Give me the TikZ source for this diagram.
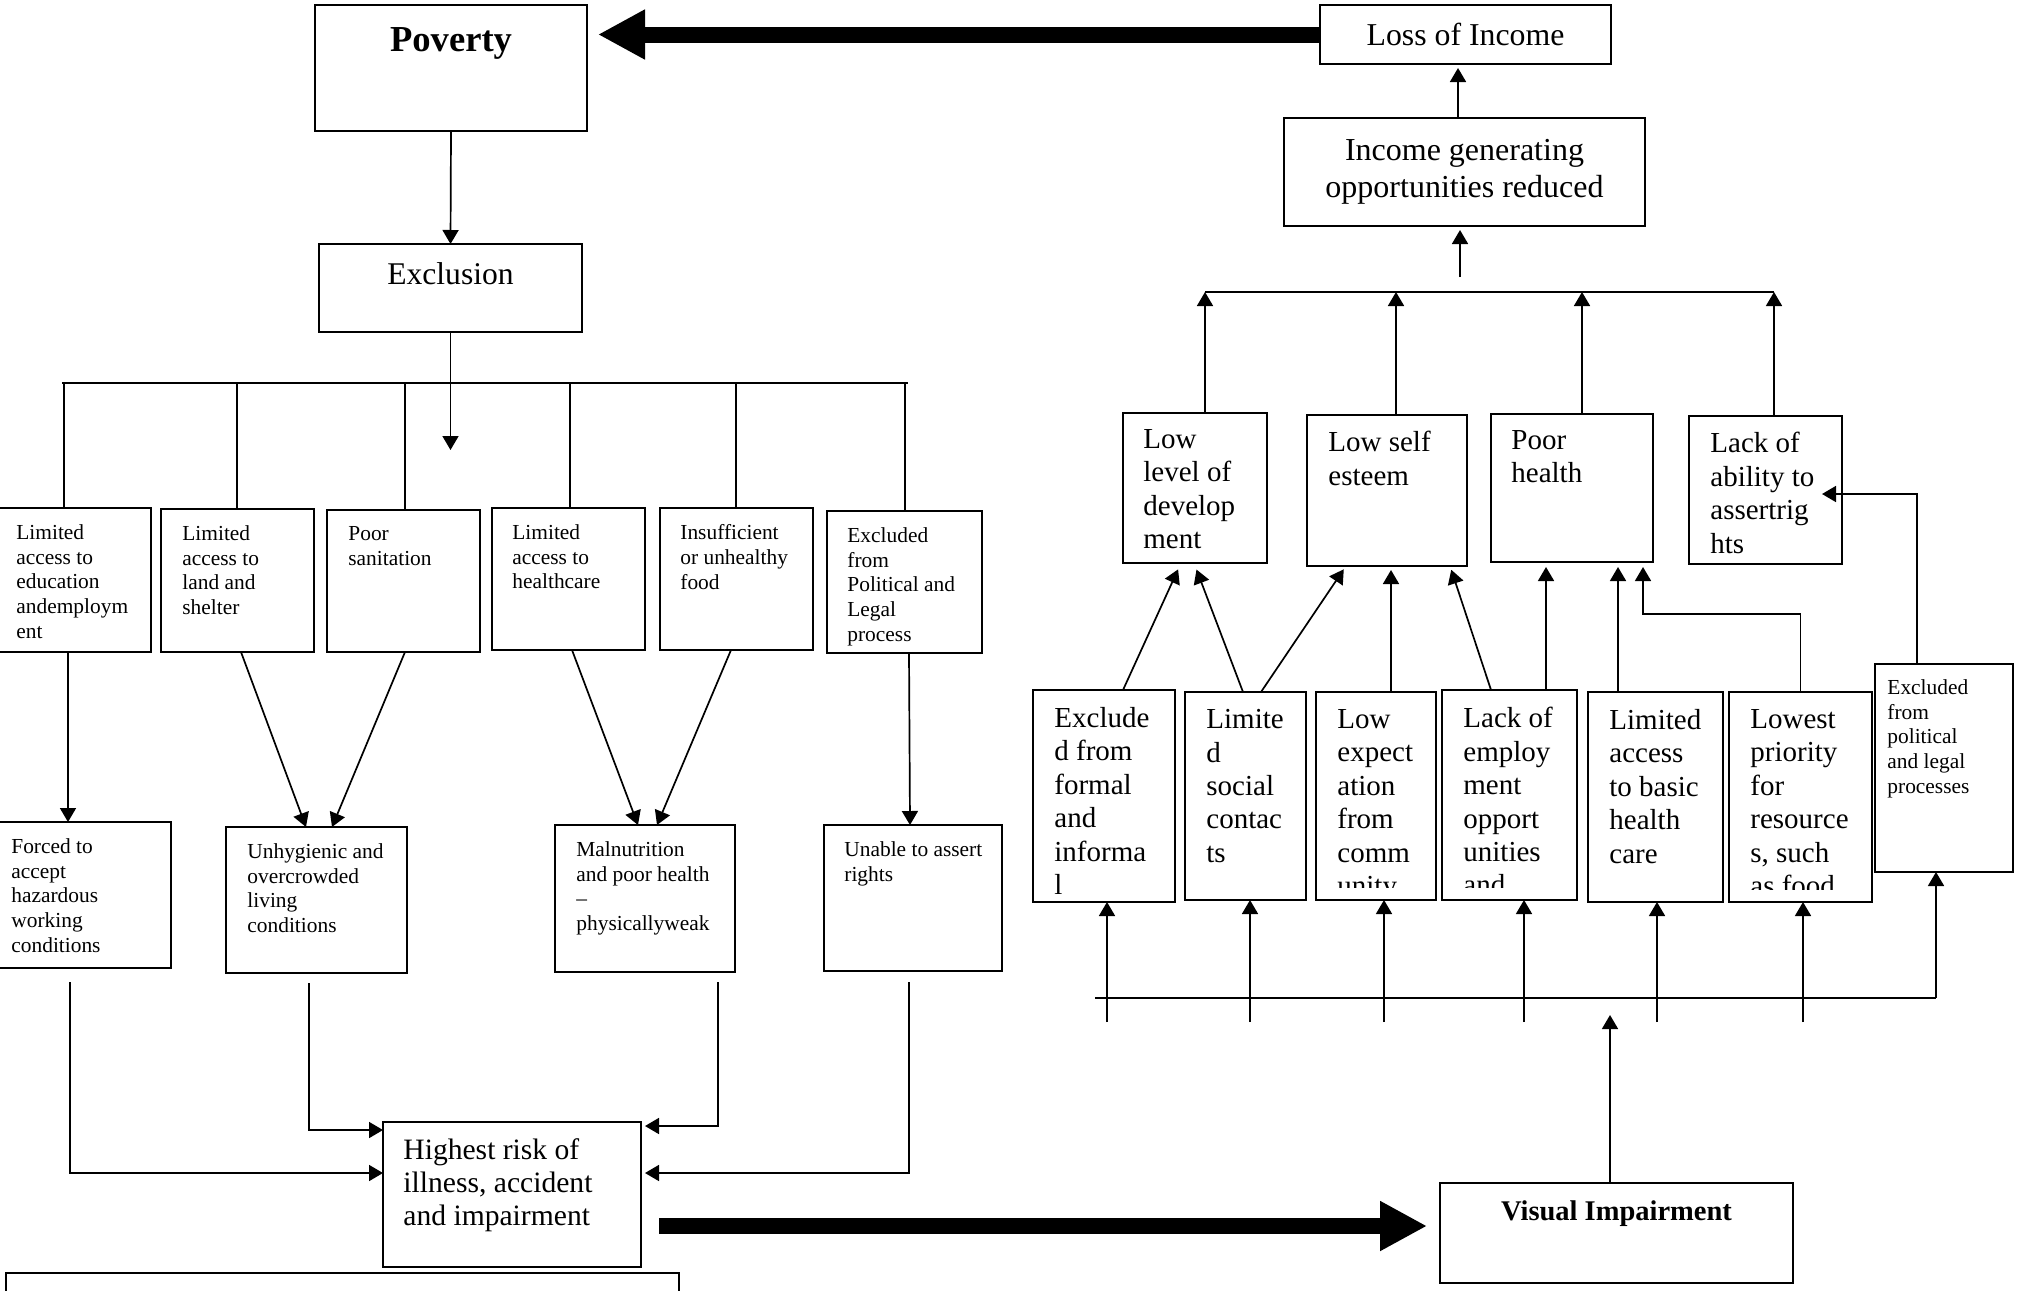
\documentclass[tikz,border=0pt]{standalone}
\usepackage{fontspec}
\setmainfont{Liberation Serif}
\usetikzlibrary{arrows.meta,calc}

\newcommand\mkbox[5]{\node[boxst, minimum width={(#4-#2)*0.5pt}, minimum height={(#5-#3)*0.5pt}] (#1) at (#2,#3) {};}
\newcommand\btxt[5]{\node[txt,#4] at ([shift={(#2,#3)}]#1.north west) {#5};}
\newcommand\cliptxt[6]{%
  \begin{scope}
    \clip (#1.north west) rectangle ([shift={(0,-#6)}]#1.south east);
    \node[txt,#4] at ([shift={(#2,#3)}]#1.north west) {#5};
  \end{scope}}

\begin{document}
\begin{tikzpicture}[x=0.5pt,y=-0.5pt,
  boxst/.style={draw, line width=1.1pt, inner sep=0pt, outer sep=0pt, anchor=north west},
  txt/.style={inner sep=0pt, anchor=north west, align=left},
  small/.style={font=\fontsize{10.7}{12.4}\selectfont},
  med/.style={font=\fontsize{14.5}{16.7}\selectfont},
  con/.style={line width=0.85pt},
  arr/.style={con, -{Triangle[length=7pt,width=8pt]}},
  big/.style={line width=8pt, -{Triangle[length=23.5pt,width=23.5pt]}}]
\useasboundingbox (0,0) rectangle (2017,1290);

% ---------- boxes, left part
\mkbox{pov}{315}{5}{587}{131}
\mkbox{exc}{319}{244}{582}{332}
\mkbox{b1}{-4}{508}{151}{652}
\mkbox{b2}{161}{509}{314}{652}
\mkbox{b3}{327}{510}{480}{652}
\mkbox{b4}{492}{508}{645}{650}
\mkbox{b5}{660}{508}{813}{650}
\mkbox{b6}{827}{511}{982}{653}
\mkbox{forced}{-10}{822}{171}{968}
\mkbox{unh}{226}{827}{407}{973}
\mkbox{mal}{555}{825}{735}{972}
\mkbox{una}{824}{825}{1002}{971}
\mkbox{risk}{383}{1122}{641}{1267}
\mkbox{note}{6}{1273}{679}{1340}
% ---------- boxes, right part
\mkbox{loss}{1320}{5}{1611}{64}
\mkbox{inc}{1284}{118}{1645}{226}
\mkbox{ll}{1123}{413}{1267}{563}
\mkbox{lse}{1307}{415}{1467}{566}
\mkbox{ph}{1491}{414}{1653}{562}
\mkbox{la}{1689}{416}{1842}{564}
\mkbox{ex1}{1033}{690}{1175}{902}
\mkbox{ls}{1185}{692}{1306}{900}
\mkbox{le}{1316}{692}{1436}{900}
\mkbox{lem}{1442}{690}{1577}{900}
\mkbox{lab}{1588}{692}{1723}{902}
\mkbox{lp}{1729}{692}{1872}{902}
\mkbox{xp}{1875}{664}{2013}{872}
\mkbox{vis}{1440}{1183}{1793}{1283}

% ---------- texts
\node[inner sep=0pt, anchor=north, font=\bfseries\fontsize{18.3}{22}\selectfont] at ([shift={(0,22)}]pov.north) {Poverty};
\node[inner sep=0pt, anchor=north, font=\fontsize{15.8}{19}\selectfont] at ([shift={(0,18)}]exc.north) {Exclusion};
\node[inner sep=0pt, font=\fontsize{15.9}{19}\selectfont] at (loss.center) {Loss of Income};
\node[inner sep=0pt, align=center, font=\fontsize{16}{18.5}\selectfont] at ([shift={(0,0)}]inc.center) {Income generating\\opportunities reduced};
\node[inner sep=0pt, anchor=north, font=\bfseries\fontsize{14.25}{17}\selectfont] at ([shift={(0,17)}]vis.north) {Visual Impairment};

\btxt{b1}{20}{16}{small}{Limited\\access to\\education\\andemploym\\ent}
\btxt{b2}{21}{16}{small}{Limited\\access to\\land and\\shelter}
\btxt{b3}{21}{16}{small}{Poor\\sanitation}
\btxt{b4}{20}{16}{small}{Limited\\access to\\healthcare}
\btxt{b5}{20}{16}{small}{Insufficient\\or unhealthy\\food}
\btxt{b6}{20}{16}{small}{Excluded\\from\\Political and\\Legal\\process}
\btxt{forced}{21}{16}{small}{Forced to\\accept\\hazardous\\working\\conditions}
\btxt{unh}{21}{16}{small}{Unhygienic and\\overcrowded\\living\\conditions}
\btxt{mal}{21}{16}{small}{Malnutrition\\and poor health\\–\\physicallyweak}
\btxt{una}{20}{16}{small}{Unable to assert\\rights}
\btxt{risk}{20}{16}{font=\fontsize{14.8}{16.5}\selectfont}{Highest risk of\\illness, accident\\and impairment}

\btxt{ll}{20}{16}{med}{Low\\level of\\develop\\ment}
\btxt{lse}{21}{16}{med}{Low self\\esteem}
\btxt{ph}{20}{16}{med}{Poor\\health}
\btxt{la}{21}{16}{med}{Lack of\\ability to\\assertrig\\hts}
\cliptxt{ex1}{21}{17}{med}{Exclude\\d from\\formal\\and\\informa\\l}{4}
\cliptxt{ls}{21}{17}{med}{Limite\\d\\social\\contac\\ts}{13}
\cliptxt{le}{21}{17}{med}{Low\\expect\\ation\\from\\comm\\unity}{13}
\cliptxt{lem}{21}{17}{med}{Lack of\\employ\\ment\\opport\\unities\\and}{13}
\cliptxt{lab}{21}{17}{med}{Limited\\access\\to basic\\health\\care}{13}
\cliptxt{lp}{21}{17}{med}{Lowest\\priority\\for\\resource\\s, such\\as food}{13}
\btxt{xp}{12}{15}{small}{Excluded\\from\\political\\and legal\\processes}

% ---------- thick arrows
\draw[big, shorten >=5.5pt] (loss.west) -- (loss.west -| pov.east);
\coordinate (ba) at ([yshift=-15.75pt]risk.east);
\draw[big, shorten <=9pt, shorten >=6.5pt] (ba) -- (ba -| vis.west);

% ---------- left connectors
\draw[arr] (pov.south) -- (exc.north);
\coordinate (exctip) at (450.5,450);
\draw[arr] (exc.south) -- (exctip);
\coordinate (lbl) at (62,383);
\coordinate (lbr) at (908,383);
\draw[con] (lbl) -- (lbr);
\coordinate (v1) at (64,383);
\coordinate (v2) at (237,383);
\coordinate (v3) at (405,383);
\coordinate (v4) at (570,383);
\coordinate (v5) at (736,383);
\coordinate (v6) at (905,383);
\draw[con] (v1) -- (v1 |- b1.north);
\draw[con] (v2) -- (v2 |- b2.north);
\draw[con] (v3) -- (v3 |- b3.north);
\draw[con] (v4) -- (v4 |- b4.north);
\draw[con] (v5) -- (v5 |- b5.north);
\draw[con] (v6) -- (v6 |- b6.north);

\draw[arr] ([xshift=-2.75pt]b1.south) -- ([xshift=-6.25pt]forced.north);
\draw[arr] ([xshift=1.75pt]b2.south) -- ([xshift=-5.25pt]unh.north);
\draw[arr] ([xshift=0.75pt]b3.south) -- ([xshift=7.75pt]unh.north);
\draw[arr] ([xshift=1.75pt]b4.south) -- ([xshift=-3.5pt]mal.north);
\draw[arr] ([xshift=-2.75pt]b5.south) -- ([xshift=6pt]mal.north);
\draw[arr] ([xshift=2.25pt]b6.south) -- ([xshift=-1.5pt]una.north);

\path ([xshift=-5.25pt]forced.south) ++(0,14) coordinate (f1);
\path ([xshift=-3.75pt]unh.south) ++(0,10) coordinate (f2);
\path ([xshift=36.5pt]mal.south) ++(0,10) coordinate (f3);
\path ([xshift=-2pt]una.south) ++(0,11) coordinate (f4);
\draw[arr] (f1) |- ([yshift=10.75pt]risk.west);
\draw[arr] (f2) |- ([yshift=32.25pt]risk.west);
\draw[arr, shorten >=2pt] (f3) |- ([yshift=34.25pt]risk.east);
\draw[arr, shorten >=2pt] (f4) |- ([yshift=10.75pt]risk.east);

% ---------- right connectors, top
\draw[arr, shorten >=2pt] ([xshift=-3.25pt]inc.north) -- ([xshift=-3.75pt]loss.south);
\coordinate (incin) at (1460,277);
\draw[arr, shorten >=2pt] (incin) -- (incin |- inc.south);
\coordinate (rbl) at (1205,292);
\coordinate (rb2) at (1396,292);
\coordinate (rb3) at (1582,292);
\coordinate (rbr) at (1774,292);
\draw[con] (rbl) -- (rbr);
\draw[arr] (rbl |- ll.north) -- (rbl);
\draw[arr] (rb2 |- lse.north) -- (rb2);
\draw[arr] (rb3 |- ph.north) -- (rb3);
\draw[arr] (rbr |- la.north) -- (rbr);

% ---------- right connectors, middle
\draw[arr, shorten >=3.5pt] ([xshift=9.5pt]ex1.north) -- ([xshift=-7pt]ll.south);
\draw[arr, shorten >=3.5pt] ([xshift=-1.25pt]ls.north) -- ([xshift=-0.5pt]ll.south);
\draw[arr, shorten >=2pt] ([xshift=7.75pt]ls.north) -- ([xshift=-20.5pt]lse.south);
\draw[arr, shorten >=2pt] ([xshift=7.5pt]le.north) -- ([xshift=2pt]lse.south);
\draw[arr, shorten >=2pt] ([xshift=-9.25pt]lem.north) -- ([xshift=31.5pt]lse.south);
\draw[arr, shorten >=2.5pt] ([xshift=18.25pt]lem.north) -- ([xshift=-13pt]ph.south);
\draw[arr, shorten >=2.5pt] ([xshift=-18.75pt]lab.north) -- ([xshift=23pt]ph.south);
\coordinate (lpc) at (1643,614);
\draw[arr, shorten >=2.5pt] (lp.north) |- (lpc) -- ([xshift=35.5pt]ph.south);
\draw[arr, shorten >=-10pt] ([xshift=-13.5pt]xp.north) |- ([yshift=-2pt]la.east);

% ---------- right connectors, bottom
\coordinate (bbl) at (1095,998);
\coordinate (bbr) at (1936,998);
\draw[con] (bbl) -- (bbr);
\coordinate (u1) at (1107,1022);
\coordinate (u2) at (1250,1022);
\coordinate (u3) at (1384,1022);
\coordinate (u4) at (1524,1022);
\coordinate (u5) at (1657,1022);
\coordinate (u6) at (1803,1022);
\draw[arr] (u1) -- (u1 |- ex1.south);
\draw[arr] (u2) -- (u2 |- ls.south);
\draw[arr] (u3) -- (u3 |- le.south);
\draw[arr] (u4) -- (u4 |- lem.south);
\draw[arr] (u5) -- (u5 |- lab.south);
\draw[arr] (u6) -- (u6 |- lp.south);
\draw[arr] (bbr) -- (bbr |- xp.south);
\coordinate (vtip) at (1610,1015);
\draw[arr] (vtip |- vis.north) -- (vtip);
\end{tikzpicture}
\end{document}
